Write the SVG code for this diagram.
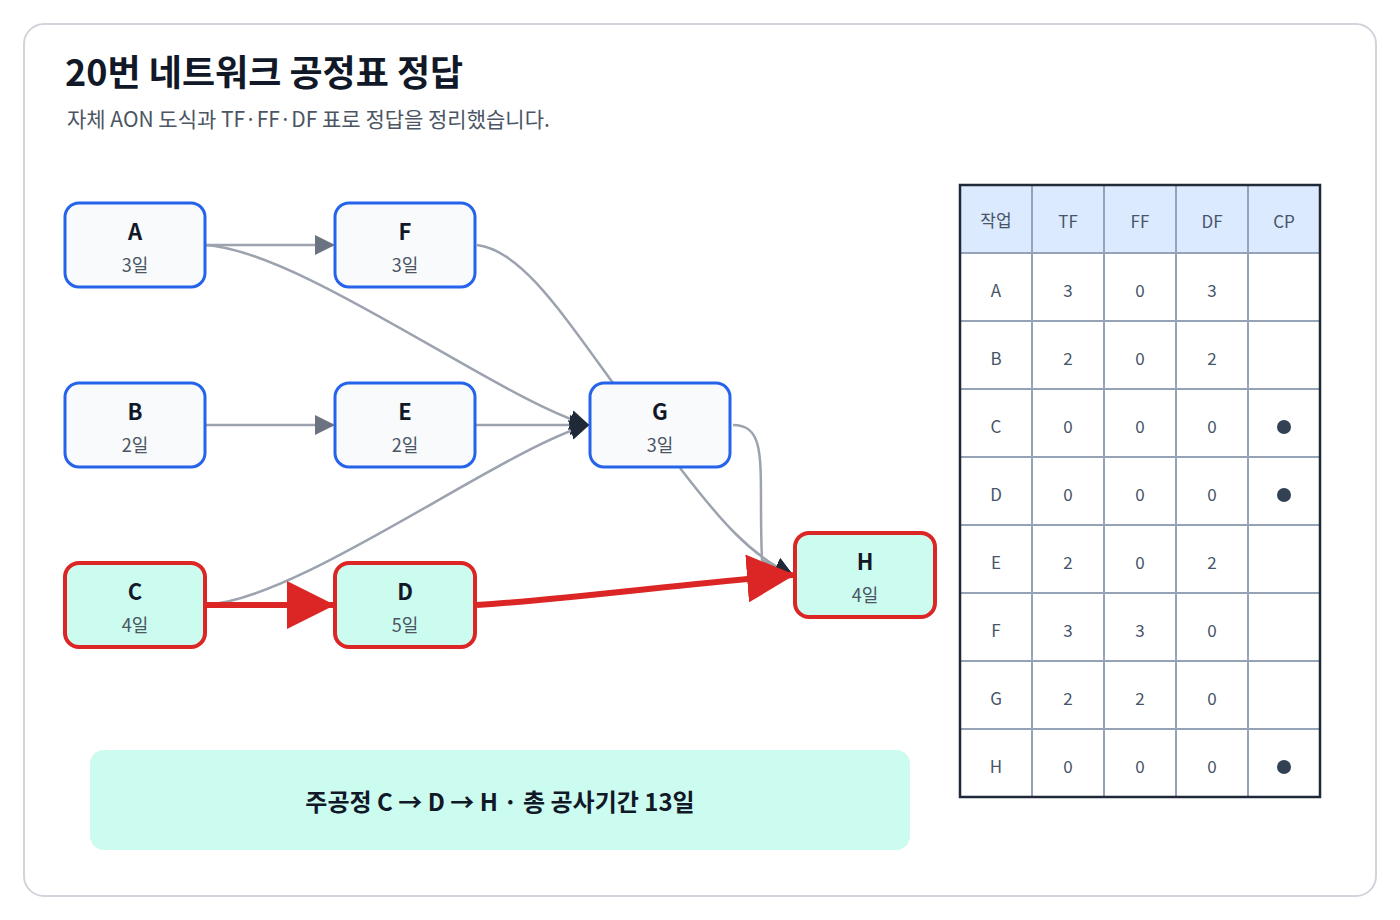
<svg xmlns="http://www.w3.org/2000/svg" width="1400" height="920" viewBox="0 0 1400 920">
<style>
text{font-family:"Noto Sans CJK KR","Noto Sans",sans-serif}
.n rect{stroke-width:3}
.norm rect{fill:#f8fafc;stroke:#2563eb}
.crit rect{fill:#ccfbef;stroke:#dc2626;stroke-width:4}
.lb{font-size:22px;font-weight:700;fill:#111827;text-anchor:middle}
.du{font-size:18px;fill:#4b5563;text-anchor:middle}
.e{fill:none;stroke:#9ca3af;stroke-width:2.5}
.cr{fill:none;stroke:#dc2626;stroke-width:6}
.tc{font-size:17px;fill:#475569;text-anchor:middle}
.gl{stroke:#94a3b8;stroke-width:2}
</style>
<defs>
<marker id="mg" markerUnits="userSpaceOnUse" markerWidth="20" markerHeight="20" refX="18" refY="10" orient="auto"><path d="M0,0L20,10L0,20z" fill="#6b7280"/></marker>
<marker id="md" markerUnits="userSpaceOnUse" markerWidth="20" markerHeight="20" refX="18" refY="10" orient="auto"><path d="M0,0L20,10L0,20z" fill="#1f2937"/></marker>
<marker id="mr" markerUnits="userSpaceOnUse" markerWidth="48" markerHeight="48" refX="46" refY="24" orient="auto"><path d="M0,0L48,24L0,48z" fill="#dc2626"/></marker>
</defs>
<rect x="24" y="24" width="1352" height="872" rx="20" fill="#fff" stroke="#d1d5db" stroke-width="2"/>
<text x="65" y="86" font-size="36" font-weight="700" fill="#111827">20번 네트워크 공정표 정답</text>
<text x="67" y="127" font-size="21" fill="#4b5563">자체 AON 도식과 TF·FF·DF 표로 정답을 정리했습니다.</text>
<g id="edges">
<path class="e" d="M205,245H333" marker-end="url(#mg)"/>
<path class="e" d="M205,425H333" marker-end="url(#mg)"/>
<path class="e" d="M205,245C300,250 500,400 588,425" marker-end="url(#md)"/>
<path class="e" d="M475,425H588" marker-end="url(#md)"/>
<path class="e" d="M205,605C300,600 500,450 588,425" marker-end="url(#md)"/>
<path class="e" d="M477,245C520,250 560,310 613,383"/>
<path class="e" d="M733,425C770,425 758,470 762,560L792,575" marker-end="url(#md)"/>
<path class="e" d="M680,468C720,520 750,555 792,575" marker-end="url(#md)"/>
<path class="cr" d="M207,605H333" marker-end="url(#mr)"/>
<path class="cr" d="M477,605C560,600 700,582 793,575" marker-end="url(#mr)"/>
</g>
<g id="A" class="n norm"><rect x="65" y="203" width="140" height="84" rx="14"/><text class="lb" x="135" y="240">A</text><text class="du" x="135" y="272">3일</text></g>
<g id="F" class="n norm"><rect x="335" y="203" width="140" height="84" rx="14"/><text class="lb" x="405" y="240">F</text><text class="du" x="405" y="272">3일</text></g>
<g id="B" class="n norm"><rect x="65" y="383" width="140" height="84" rx="14"/><text class="lb" x="135" y="420">B</text><text class="du" x="135" y="452">2일</text></g>
<g id="E" class="n norm"><rect x="335" y="383" width="140" height="84" rx="14"/><text class="lb" x="405" y="420">E</text><text class="du" x="405" y="452">2일</text></g>
<g id="G" class="n norm"><rect x="590" y="383" width="140" height="84" rx="14"/><text class="lb" x="660" y="420">G</text><text class="du" x="660" y="452">3일</text></g>
<g id="C" class="n crit"><rect x="65" y="563" width="140" height="84" rx="14"/><text class="lb" x="135" y="600">C</text><text class="du" x="135" y="632">4일</text></g>
<g id="D" class="n crit"><rect x="335" y="563" width="140" height="84" rx="14"/><text class="lb" x="405" y="600">D</text><text class="du" x="405" y="632">5일</text></g>
<g id="H" class="n crit"><rect x="795" y="533" width="140" height="84" rx="14"/><text class="lb" x="865" y="570">H</text><text class="du" x="865" y="602">4일</text></g>
<g id="summary"><rect x="90" y="750" width="820" height="100" rx="14" fill="#ccfbef"/><text x="500" y="811" font-size="24" font-weight="700" fill="#111827" text-anchor="middle">주공정 C → D → H · 총 공사기간 13일</text></g>
<g id="table">
<rect x="960" y="185" width="360" height="68" fill="#dbeafe"/>
<g class="gl">
<line x1="1032" y1="185" x2="1032" y2="797"/><line x1="1104" y1="185" x2="1104" y2="797"/><line x1="1176" y1="185" x2="1176" y2="797"/><line x1="1248" y1="185" x2="1248" y2="797"/>
<line x1="960" y1="253" x2="1320" y2="253"/><line x1="960" y1="321" x2="1320" y2="321"/><line x1="960" y1="389" x2="1320" y2="389"/><line x1="960" y1="457" x2="1320" y2="457"/><line x1="960" y1="525" x2="1320" y2="525"/><line x1="960" y1="593" x2="1320" y2="593"/><line x1="960" y1="661" x2="1320" y2="661"/><line x1="960" y1="729" x2="1320" y2="729"/>
</g>
<rect x="960" y="185" width="360" height="612" fill="none" stroke="#1f2937" stroke-width="2.5"/>
<g class="tc">
<text x="996" y="227">작업</text><text x="1068" y="228">TF</text><text x="1140" y="228">FF</text><text x="1212" y="228">DF</text><text x="1284" y="228">CP</text>
<text x="996" y="297">A</text><text x="1068" y="297">3</text><text x="1140" y="297">0</text><text x="1212" y="297">3</text>
<text x="996" y="365">B</text><text x="1068" y="365">2</text><text x="1140" y="365">0</text><text x="1212" y="365">2</text>
<text x="996" y="433">C</text><text x="1068" y="433">0</text><text x="1140" y="433">0</text><text x="1212" y="433">0</text>
<text x="996" y="501">D</text><text x="1068" y="501">0</text><text x="1140" y="501">0</text><text x="1212" y="501">0</text>
<text x="996" y="569">E</text><text x="1068" y="569">2</text><text x="1140" y="569">0</text><text x="1212" y="569">2</text>
<text x="996" y="637">F</text><text x="1068" y="637">3</text><text x="1140" y="637">3</text><text x="1212" y="637">0</text>
<text x="996" y="705">G</text><text x="1068" y="705">2</text><text x="1140" y="705">2</text><text x="1212" y="705">0</text>
<text x="996" y="773">H</text><text x="1068" y="773">0</text><text x="1140" y="773">0</text><text x="1212" y="773">0</text>
</g>
<g fill="#334155"><circle cx="1284" cy="427" r="7"/><circle cx="1284" cy="495" r="7"/><circle cx="1284" cy="767" r="7"/></g>
</g>
</svg>
